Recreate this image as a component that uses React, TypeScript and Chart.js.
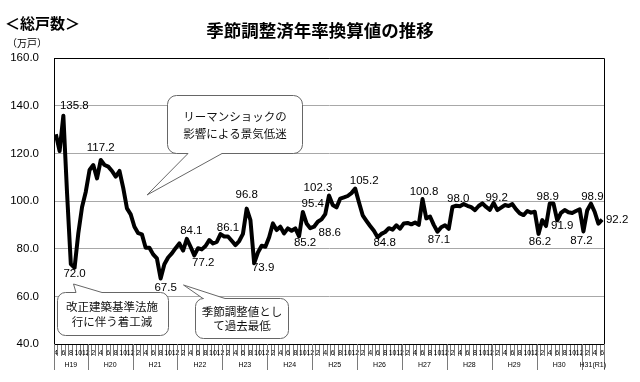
import React, { useEffect, useRef } from 'react';
import { Chart, registerables } from 'chart.js';

Chart.register(...registerables);

// 季節調整済年率換算値（万戸）— monthly, by calendar year
const h19 = [128.0, 121.0, 135.8, 103.0, 73.5, 72.0, 86.5, 97.5, 103.9]; // Apr–Dec 2007
const h20 = [113.0, 115.1, 109.5, 117.2, 115.1, 114.4, 112.6, 110.2, 112.6, 105.5, 96.9, 94.4];
const h21 = [89.2, 86.5, 86.0, 80.4, 80.4, 77.6, 75.9, 67.5, 73.5, 76.3, 78.0, 80.2];
const h22 = [82.2, 79.2, 84.1, 80.8, 77.2, 80.2, 79.7, 81.1, 83.6, 82.2, 82.8, 86.1];
const h23 = [85.1, 85.1, 83.3, 81.5, 83.2, 86.2, 96.8, 92.0, 73.9, 78.4, 81.2, 80.8];
const h24 = [84.8, 90.6, 87.8, 89.2, 86.4, 88.5, 87.5, 88.5, 85.2, 95.4, 90.6, 88.6];
const h25 = [89.2, 91.3, 92.3, 94.5, 102.3, 98.3, 97.3, 101.0, 101.5, 102.1, 103.3, 105.2];
const h26 = [99.5, 94.0, 91.7, 89.5, 87.5, 84.8, 86.2, 87.0, 88.6, 88.0, 89.8, 88.4];
const h27 = [90.6, 90.8, 90.2, 91.0, 90.0, 100.8, 92.7, 93.5, 90.0, 87.1, 89.0, 89.8];
const h28 = [88.3, 97.5, 98.0, 97.8, 98.7, 98.0, 97.4, 96.2, 97.9, 99.0, 97.5, 96.3];
const h29 = [99.2, 96.2, 97.2, 98.3, 97.9, 98.7, 96.5, 94.8, 94.1, 95.8, 95.1, 95.5];
const h30 = [86.2, 92.0, 89.5, 98.9, 98.9, 91.9, 95.0, 96.2, 95.3, 95.0, 95.8, 96.5];
const h31 = [87.2, 96.0, 98.9, 95.5, 90.5, 92.2]; // Jan–Jun 2019

const yearLabels = ['H19', 'H20', 'H21', 'H22', 'H23', 'H24', 'H25', 'H26', 'H27', 'H28', 'H29', 'H30', 'H31(R1)'];
const yearSeries = [h19, h20, h21, h22, h23, h24, h25, h26, h27, h28, h29, h30, h31];
const firstMonth = 4;

const yTicks = [40, 60, 80, 100, 120, 140, 160];

// indices of annotated points
const labeledIdx = [2, 12, 5, 28, 35, 37, 44, 51, 53, 65, 66, 68, 73, 80, 86, 98, 102, 107, 117, 129, 132, 134, 141, 143, 146];

const calloutTexts = [
  ['リーマンショックの', '影響による景気低迷'],
  ['改正建築基準法施', '行に伴う着工減'],
  ['季節調整値とし', 'て過去最低'],
];

// ---- derived tables
const values: number[] = yearSeries.flat();
const months: number[] = [];
const yearOf: number[] = [];
yearSeries.forEach((arr, yi) =>
  arr.forEach((_, k) => {
    months.push(yi === 0 ? firstMonth + k : 1 + k);
    yearOf.push(yi);
  })
);
const categories = months.map((m, i) => `${yearLabels[yearOf[i]]}-${m}`);

// label placement (text centre relative to point), pixels
const labelShift: [number, number][] = [
  [11, -10], [0, -12], [0, 6.5], [5, 9], [4.5, -8], [9, 7.5], [7.5, -6.5], [0, -14], [9, 4.5],
  [6, 7], [10, -8], [19.5, 4.5], [-11, -8], [9, -7.5], [7, 6], [1.5, -7], [1.5, 8], [2, -7],
  [3, -5.5], [1.5, 7.5], [-2, -7], [5, 6], [-2, 9.5], [1.5, -7], [15, 0],
];

const NUM_FONT = '"Liberation Sans", Arial, sans-serif';
const JP_FONT = '"Noto Sans CJK JP", "Noto Sans", sans-serif';

function bubblePath(
  ctx: CanvasRenderingContext2D,
  x: number, y: number, w: number, h: number, r: number,
  side: 'top' | 'bottom', b1: number, b2: number, tx: number, ty: number
) {
  ctx.beginPath();
  ctx.moveTo(x + r, y);
  if (side === 'top') {
    ctx.lineTo(b1, y);
    ctx.lineTo(tx, ty);
    ctx.lineTo(b2, y);
  }
  ctx.lineTo(x + w - r, y);
  ctx.arcTo(x + w, y, x + w, y + r, r);
  ctx.lineTo(x + w, y + h - r);
  ctx.arcTo(x + w, y + h, x + w - r, y + h, r);
  if (side === 'bottom') {
    ctx.lineTo(b2, y + h);
    ctx.lineTo(tx, ty);
    ctx.lineTo(b1, y + h);
  }
  ctx.lineTo(x + r, y + h);
  ctx.arcTo(x, y + h, x, y + h - r, r);
  ctx.lineTo(x, y + r);
  ctx.arcTo(x, y, x + r, y, r);
  ctx.closePath();
}

const overlay = {
  id: 'overlay',
  afterDraw(chart: any) {
    const { ctx, chartArea: a, scales } = chart;
    const xs = scales.x;
    const ys = scales.y;
    const n = values.length;
    const step = xs.getPixelForValue(1) - xs.getPixelForValue(0);
    ctx.save();

    // frame (top / right)
    ctx.strokeStyle = '#000';
    ctx.lineWidth = 1;
    ctx.beginPath();
    ctx.moveTo(a.left, a.top + 0.5);
    ctx.lineTo(a.right + 0.5, a.top + 0.5);
    ctx.lineTo(a.right + 0.5, a.bottom);
    ctx.stroke();

    // year dividers + labels
    const bounds: number[] = [0];
    for (let i = 1; i < n; i++) if (yearOf[i] !== yearOf[i - 1]) bounds.push(i);
    bounds.push(n);
    ctx.strokeStyle = '#7a7a7a';
    ctx.lineWidth = 1;
    const bx = (b: number) => (b < n ? xs.getPixelForValue(b) - step / 2 : xs.getPixelForValue(n - 1) + step / 2);
    bounds.forEach((b) => {
      const x = Math.round(bx(b)) + 0.5;
      ctx.beginPath();
      ctx.moveTo(x, a.bottom);
      ctx.lineTo(x, a.bottom + 26);
      ctx.stroke();
    });
    ctx.fillStyle = '#000';
    ctx.font = `7px ${NUM_FONT}`;
    ctx.textAlign = 'center';
    ctx.textBaseline = 'middle';
    for (let k = 0; k < bounds.length - 1; k++) {
      const cx = (bx(bounds[k]) + bx(bounds[k + 1])) / 2;
      ctx.fillText(yearLabels[k], cx, a.bottom + 21);
    }

    // data labels
    ctx.font = `11.5px ${NUM_FONT}`;
    ctx.fillStyle = '#000';
    labeledIdx.forEach((idx, j) => {
      const px = xs.getPixelForValue(idx);
      const py = ys.getPixelForValue(values[idx]);
      const [dx, dy] = labelShift[j];
      ctx.fillText(values[idx].toFixed(1), px + dx, py + dy);
    });

    // callouts
    ctx.lineWidth = 1;
    ctx.strokeStyle = '#666';
    ctx.fillStyle = '#fff';
    const boxes = [
      { x: 167.5, y: 95.5, w: 135, h: 58, r: 9, side: 'bottom' as const, b1: 188, b2: 222, tx: 147, ty: 195, cx: 235, ly: [117, 134] },
      { x: 57.5, y: 292.5, w: 111, h: 43, r: 8, side: 'top' as const, b1: 76, b2: 102, tx: 73.5, ty: 284, cx: 112, ly: [307, 322] },
      { x: 195.5, y: 298.5, w: 93, h: 40, r: 8, side: 'top' as const, b1: 203, b2: 225, tx: 183.5, ty: 285, cx: 242, ly: [312, 326] },
    ];
    boxes.forEach((bx2, k) => {
      bubblePath(ctx, bx2.x, bx2.y, bx2.w, bx2.h, bx2.r, bx2.side, bx2.b1, bx2.b2, bx2.tx, bx2.ty);
      ctx.fillStyle = '#fff';
      ctx.fill();
      ctx.stroke();
      ctx.fillStyle = '#111';
      ctx.font = `11.5px ${JP_FONT}`;
      calloutTexts[k].forEach((t, li) => ctx.fillText(t, bx2.cx, bx2.ly[li]));
    });

    // headings
    ctx.fillStyle = '#000';
    ctx.textAlign = 'left';
    ctx.font = `bold 15px ${JP_FONT}`;
    ctx.fillText('＜総戸数＞', 5, 23);
    ctx.font = `10px ${JP_FONT}`;
    ctx.fillText('（万戸）', 7, 43);
    ctx.textAlign = 'center';
    ctx.font = `bold 17.5px ${JP_FONT}`;
    ctx.fillText('季節調整済年率換算値の推移', 320, 30);

    ctx.restore();
  },
};

export default function App() {
  const ref = useRef<HTMLCanvasElement>(null);

  useEffect(() => {
    if (!ref.current) return;
    const chart = new Chart(ref.current, {
      type: 'line',
      data: {
        labels: categories,
        datasets: [
          {
            data: values,
            borderColor: '#000',
            borderWidth: 4,
            pointRadius: 0,
            tension: 0,
            fill: false,
            borderJoinStyle: 'round',
          },
        ],
      },
      options: {
        animation: false,
        responsive: false,
        layout: { padding: { top: 58, right: 36, left: 0, bottom: 0 } },
        plugins: {
          legend: { display: false },
          tooltip: { enabled: false },
          title: { display: false },
        },
        scales: {
          x: {
            type: 'category',
            offset: true,
            grid: {
              display: true,
              drawOnChartArea: false,
              drawTicks: true,
              tickLength: 12,
              color: '#7a7a7a',
              offset: true,
            },
            border: { display: true, color: '#000', width: 1 },
            ticks: {
              autoSkip: false,
              maxRotation: 0,
              minRotation: 0,
              padding: -7,
              color: '#000',
              font: { size: 7, family: NUM_FONT },
              callback: (_v: any, i: number) => (months[i] % 2 === 0 ? String(months[i]) : ''),
            },
            afterFit: (s: any) => {
              s.height = 38;
            },
          },
          y: {
            min: yTicks[0],
            max: yTicks[yTicks.length - 1],
            afterBuildTicks: (s: any) => {
              s.ticks = yTicks.map((v) => ({ value: v }));
            },
            grid: { color: '#a8a8a8', drawTicks: false, tickLength: 0 },
            border: { display: true, color: '#000', width: 1 },
            ticks: {
              padding: 15,
              color: '#000',
              font: { size: 11.5, family: NUM_FONT },
              callback: (v: any) => Number(v).toFixed(1),
            },
            afterFit: (s: any) => {
              s.width = 54;
            },
          },
        },
      },
      plugins: [overlay],
    });
    return () => chart.destroy();
  }, []);

  return (
    <div style={{ position: 'absolute', left: 0, top: 0, width: 640, height: 382, background: '#fff' }}>
      <canvas ref={ref} width={640} height={382} />
    </div>
  );
}
